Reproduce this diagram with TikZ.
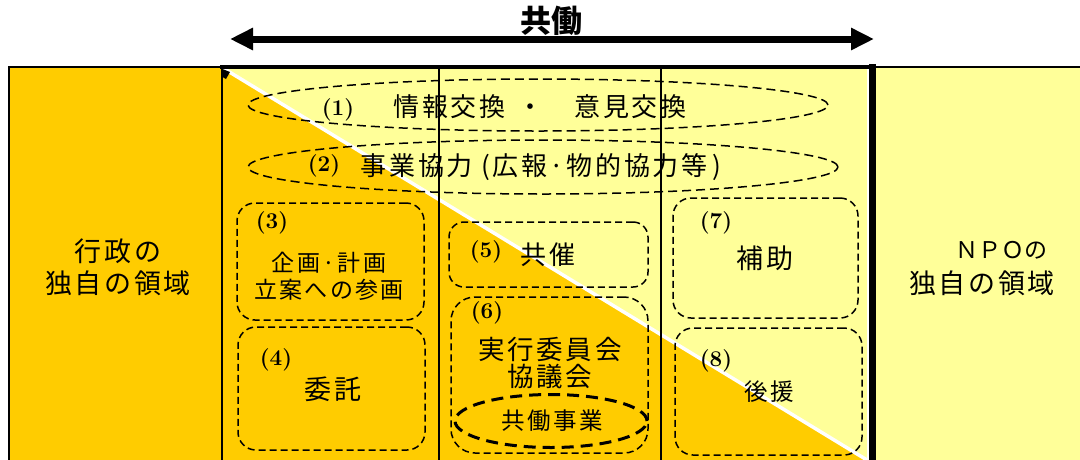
\documentclass[tikz,border=0pt]{standalone}
\usepackage{fontspec}
\usetikzlibrary{arrows.meta,shapes.geometric}
\newfontfamily\jpT{Noto Sans CJK JP}
\newfontfamily\jpA{Noto Sans CJK JP}[LetterSpace=10]
\definecolor{gyo}{HTML}{FFCC00}
\definecolor{npo}{HTML}{FFFF99}
\newcommand{\fsz}[1]{\fontsize{#1}{#1}\selectfont}
\begin{document}
\begin{tikzpicture}[x=1pt,y=-1pt,
  dbox/.style={draw, rectangle, rounded corners=18pt, line width=1.5pt, dash pattern=on 7pt off 4pt, inner sep=0pt},
  dell/.style={draw, ellipse, line width=1.5pt, dash pattern=on 9pt off 5pt, inner sep=0pt},
  num/.style={font=\bfseries\fsz{22.5}, inner sep=0pt},
  jt/.style={inner sep=0pt, align=center},
  rule/.style={line width=1.5pt},
]
\useasboundingbox (0,0) rectangle (1080,459);
\clip (0,0) rectangle (1080,459);
% backgrounds
\fill[gyo] (9,67) rectangle (222,465);
\fill[npo] (873,67) rectangle (1085,465);
\fill[npo] (222,67) rectangle (873,465);
\coordinate (dA) at (222,67.5);
\coordinate (dB) at (867,460);
\fill[gyo] (dA) -- (222,465) -- (867,465) -- (dB) -- cycle;
\draw[white, line width=3.5pt] (dA) -- (dB);
\draw[white, line width=2pt] (868,67) -- (868,465);
% column rules
\draw[rule] (439,67) -- (439,465);
\draw[rule] (661,67) -- (661,465);
% borders
\draw[rule] (9,465) -- (9,67) -- (222,67) -- (222,465);
\draw[line width=1.2pt] (873,67) -- (1085,67);
\draw[line width=7pt] (872.5,64) -- (872.5,465);
\draw[line width=4pt] (220,67) -- (876,67);
\fill (222.5,69) -- (230,72) -- (226,79) -- (222.5,77) -- cycle;
% title and arrow
\node[jt, font=\jpT\bfseries\fsz{31}] (title) at (551,21) {共働};
\coordinate (al) at (230,39);
\coordinate (ar) at (874,39);
\draw[line width=7pt, {Triangle[width=21pt,length=23pt]}-{Triangle[width=21pt,length=23pt]}] (al) -- (ar);
% side texts
\node[jt, font=\jpA\fsz{27}] (g1) at (118,251) {行政の};
\node[jt, font=\jpA\fsz{27}] (g2) at (118,283) {独自の領域};
\node[jt, font=\jpT\fsz{23}] (p1) at (1001,250) {ＮＰＯの};
\node[jt, font=\jpA\fsz{27}] (p2) at (982,283) {独自の領域};
% ellipses (1) (2)
\node[dell, minimum width=580pt, minimum height=52pt] (e1) at (538,105) {};
\node[dell, minimum width=590pt, minimum height=54pt] (e2) at (543,167) {};
\node[num] (n1) at (338,110) {(1)};
\node[jt, font=\jpA\fsz{26}] (t1) at (540,107) {情報交換\hspace{12pt}・　意見交換};
\node[num] (n2) at (324,166) {(2)};
\node[jt, font=\jpA\fsz{26}] (t2) at (541,167) {事業協力\hspace{9pt}(\hspace{2pt}広報·物的協力等\hspace{5pt})};
% boxes
\node[dbox, minimum width=187pt, minimum height=117pt] (b3) at (330.5,261.5) {};
\node[dbox, minimum width=187pt, minimum height=123pt] (b4) at (331.5,388.5) {};
\node[dbox, minimum width=199pt, minimum height=65pt, rounded corners=15pt] (b5) at (548.5,254.5) {};
\node[dbox, minimum width=197pt, minimum height=156pt, rounded corners=24pt] (b6) at (549.5,375) {};
\node[dbox, minimum width=185pt, minimum height=120pt] (b7) at (765.5,258) {};
\node[dbox, minimum width=187pt, minimum height=127pt] (b8) at (768.5,391.5) {};
\node[draw, ellipse, line width=3pt, dash pattern=on 12pt off 7pt, minimum width=192pt, minimum height=53pt, inner sep=0pt] (e6) at (551,421) {};
% numbers
\node[num] (n3) at (272,223) {(3)};
\node[num] (n4) at (276,360) {(4)};
\node[num] (n5) at (486,252) {(5)};
\node[num] (n6) at (487,313) {(6)};
\node[num] (n7) at (716,223) {(7)};
\node[num] (n8) at (716,361) {(8)};
% box texts
\node[jt, font=\jpA\fsz{23}] (t3a) at (329,263) {企画·計画};
\node[jt, font=\jpA\fsz{23}] (t3b) at (329,290) {立案への参画};
\node[jt, font=\jpA\fsz{27}] (t4) at (333,389) {委託};
\node[jt, font=\jpA\fsz{26}] (t5) at (548,255) {共催};
\node[jt, font=\jpA\fsz{26.5}] (t6a) at (550,349) {実行委員会};
\node[jt, font=\jpA\fsz{26.5}] (t6b) at (550,377) {協議会};
\node[jt, font=\jpA\fsz{23.5}] (t6c) at (552,421) {共働事業};
\node[jt, font=\jpA\fsz{27}] (t7) at (765,258) {補助};
\node[jt, font=\jpA\fsz{23.5}] (t8) at (769,392) {後援};
\end{tikzpicture}
\end{document}
